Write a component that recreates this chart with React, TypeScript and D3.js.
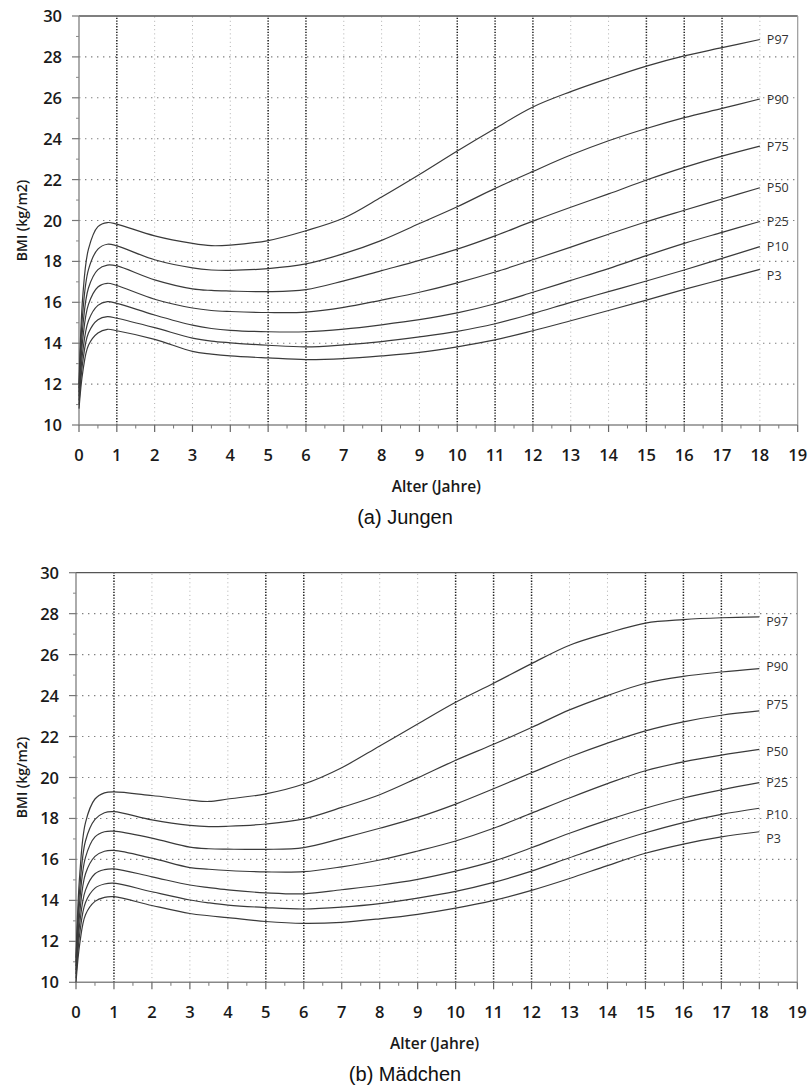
import React from 'react';
import * as d3 from 'd3';

// ---- Data ----
const AGES = [0, 0.1, 0.25, 0.5, 0.75, 1, 2, 3, 3.5, 4, 5, 6, 7, 8, 9, 10, 11, 12, 13, 14, 15, 16, 17, 18];
const PERCENTILES = ['P97', 'P90', 'P75', 'P50', 'P25', 'P10', 'P3'];

const BOYS_P97 = [12.0, 16.3, 18.6, 19.7, 19.9, 19.82, 19.25, 18.88, 18.77, 18.8, 19.02, 19.5, 20.12, 21.15, 22.25, 23.4, 24.5, 25.55, 26.3, 26.95, 27.55, 28.05, 28.45, 28.85];
const BOYS_P90 = [11.8, 15.5, 17.6, 18.6, 18.84, 18.76, 18.08, 17.68, 17.58, 17.56, 17.65, 17.88, 18.38, 19.03, 19.85, 20.67, 21.57, 22.4, 23.2, 23.9, 24.5, 25.03, 25.48, 25.94];
const BOYS_P75 = [11.6, 14.8, 16.7, 17.6, 17.82, 17.78, 17.1, 16.66, 16.58, 16.55, 16.52, 16.62, 17.05, 17.55, 18.05, 18.6, 19.25, 19.97, 20.65, 21.3, 21.98, 22.6, 23.15, 23.64];
const BOYS_P50 = [11.4, 14.2, 15.9, 16.75, 16.93, 16.82, 16.15, 15.72, 15.6, 15.55, 15.5, 15.52, 15.75, 16.11, 16.49, 16.95, 17.48, 18.08, 18.7, 19.33, 19.94, 20.5, 21.05, 21.6];
const BOYS_P25 = [11.2, 13.6, 15.1, 15.85, 16.03, 15.95, 15.38, 14.88, 14.72, 14.63, 14.56, 14.56, 14.69, 14.9, 15.15, 15.48, 15.93, 16.49, 17.07, 17.65, 18.28, 18.88, 19.42, 19.95];
const BOYS_P10 = [11.0, 13.1, 14.5, 15.15, 15.3, 15.22, 14.76, 14.25, 14.1, 14.02, 13.9, 13.82, 13.92, 14.08, 14.31, 14.58, 14.95, 15.45, 16.0, 16.52, 17.04, 17.58, 18.15, 18.72];
const BOYS_P3 = [10.8, 12.6, 13.9, 14.5, 14.68, 14.61, 14.19, 13.6, 13.47, 13.38, 13.28, 13.2, 13.25, 13.38, 13.55, 13.82, 14.16, 14.61, 15.1, 15.6, 16.11, 16.63, 17.12, 17.61];

const GIRLS_P97 = [11.2, 15.3, 17.8, 18.95, 19.25, 19.3, 19.12, 18.9, 18.83, 18.95, 19.2, 19.68, 20.48, 21.54, 22.61, 23.67, 24.6, 25.56, 26.46, 27.05, 27.54, 27.71, 27.8, 27.84];
const GIRLS_P90 = [11.0, 14.6, 16.9, 17.95, 18.28, 18.33, 17.93, 17.66, 17.6, 17.62, 17.73, 17.98, 18.54, 19.16, 19.98, 20.84, 21.62, 22.44, 23.3, 24.0, 24.6, 24.94, 25.15, 25.32];
const GIRLS_P75 = [10.8, 14.0, 16.1, 17.1, 17.35, 17.38, 17.04, 16.6, 16.52, 16.5, 16.49, 16.58, 17.03, 17.52, 18.05, 18.7, 19.45, 20.23, 21.0, 21.68, 22.28, 22.72, 23.04, 23.25];
const GIRLS_P50 = [10.6, 13.4, 15.3, 16.15, 16.4, 16.44, 16.06, 15.6, 15.52, 15.46, 15.39, 15.4, 15.64, 15.97, 16.41, 16.9, 17.52, 18.26, 19.0, 19.7, 20.33, 20.76, 21.09, 21.37];
const GIRLS_P25 = [10.4, 12.9, 14.5, 15.3, 15.5, 15.54, 15.15, 14.75, 14.62, 14.51, 14.37, 14.32, 14.52, 14.74, 15.03, 15.43, 15.92, 16.57, 17.28, 17.92, 18.5, 19.0, 19.4, 19.75];
const GIRLS_P10 = [10.2, 12.4, 13.9, 14.6, 14.8, 14.84, 14.42, 14.02, 13.88, 13.77, 13.65, 13.58, 13.67, 13.84, 14.11, 14.44, 14.88, 15.43, 16.08, 16.72, 17.3, 17.8, 18.2, 18.5];
const GIRLS_P3 = [10.0, 11.9, 13.3, 13.95, 14.15, 14.18, 13.75, 13.36, 13.25, 13.16, 12.97, 12.88, 12.93, 13.1, 13.32, 13.62, 14.0, 14.49, 15.07, 15.7, 16.3, 16.75, 17.1, 17.35];

const BOYS = [BOYS_P97, BOYS_P90, BOYS_P75, BOYS_P50, BOYS_P25, BOYS_P10, BOYS_P3];
const GIRLS = [GIRLS_P97, GIRLS_P90, GIRLS_P75, GIRLS_P50, GIRLS_P25, GIRLS_P10, GIRLS_P3];

const X_TICKS = d3.range(0, 20);
const X_MINOR = d3.range(0.5, 19, 1);
const Y_TICKS = [10, 12, 14, 16, 18, 20, 22, 24, 26, 28, 30];
const Y_MINOR = [11, 13, 15, 17, 19, 21, 23, 25, 27, 29];
const Y_GRID = [12, 14, 16, 18, 20, 22, 24, 26, 28];
const DARK_VERTICALS = [1, 5, 6, 10, 11, 12, 15, 16, 17];
const LIGHT_VERTICALS = [2, 3, 4, 7, 8, 9, 13, 14, 18];

const X_TITLE = 'Alter (Jahre)';
const Y_TITLE = 'BMI (kg/m2)';

// ---- Styles ----
const AXIS_FONT = '"Open Sans", "Noto Sans", sans-serif';
const LINE_COLOR = '#3a3a3a';

type Frame = { left: number; right: number; top: number; bottom: number };

function Chart({ series, frame, labelDy, caption }: { series: number[][]; frame: Frame; labelDy: number[]; caption: string }) {
  const x = d3.scaleLinear().domain([0, 19]).range([frame.left, frame.right]);
  const y = d3.scaleLinear().domain([10, 30]).range([frame.bottom, frame.top]);
  const line = d3
    .line<number>()
    .x((_, i) => x(AGES[i]))
    .y((d) => y(d))
    .curve(d3.curveCatmullRom.alpha(0.5));
  const midX = (frame.left + frame.right) / 2;
  const midY = (frame.top + frame.bottom) / 2;
  const lastAge = AGES[AGES.length - 1];

  return (
    <g>
      {Y_GRID.map((v) => (
        <line key={'h' + v} x1={x(0)} x2={x(19)} y1={y(v)} y2={y(v)} stroke="#808080" strokeWidth={1.1} strokeDasharray="1.4 4.6" />
      ))}
      {LIGHT_VERTICALS.map((v) => (
        <line key={'lv' + v} x1={x(v)} x2={x(v)} y1={y(10)} y2={y(30)} stroke="#b0b0b0" strokeWidth={1} strokeDasharray="1 3.2" />
      ))}
      {DARK_VERTICALS.map((v) => (
        <line key={'dv' + v} x1={x(v)} x2={x(v)} y1={y(10)} y2={y(30)} stroke="#1e1e1e" strokeWidth={1.5} strokeDasharray="1.3 1.5" />
      ))}
      <line x1={x(0)} x2={x(19)} y1={y(30)} y2={y(30)} stroke="#555" strokeWidth={1.3} />
      <line x1={x(19)} x2={x(19)} y1={y(30)} y2={y(10)} stroke="#999" strokeWidth={1.2} />
      <line x1={x(0)} x2={x(0)} y1={y(30)} y2={y(10)} stroke="#888" strokeWidth={1.4} />
      <line x1={x(0)} x2={x(19)} y1={y(10)} y2={y(10)} stroke="#888" strokeWidth={1.4} />
      {Y_TICKS.map((v) => (
        <g key={'yt' + v}>
          <line x1={x(0) - 7} x2={x(0)} y1={y(v)} y2={y(v)} stroke="#777" strokeWidth={1.2} />
          <text x={x(0) - 17} y={y(v) + 6} textAnchor="end" fontFamily={AXIS_FONT} fontWeight={600} fontSize={16.5} fill="#1a1a1a">
            {v}
          </text>
        </g>
      ))}
      {Y_MINOR.map((v) => (
        <line key={'ym' + v} x1={x(0) - 3} x2={x(0)} y1={y(v)} y2={y(v)} stroke="#888" strokeWidth={1} />
      ))}
      {X_TICKS.map((v) => (
        <g key={'xt' + v}>
          <line x1={x(v)} x2={x(v)} y1={y(10)} y2={y(10) + 7} stroke="#666" strokeWidth={1.2} />
          <text x={x(v)} y={y(10) + 36} textAnchor="middle" fontFamily={AXIS_FONT} fontWeight={600} fontSize={16.5} fill="#1a1a1a">
            {v}
          </text>
        </g>
      ))}
      {X_MINOR.map((v) => (
        <line key={'xm' + v} x1={x(v)} x2={x(v)} y1={y(10)} y2={y(10) + 3.5} stroke="#777" strokeWidth={1} />
      ))}
      {series.map((s, i) => (
        <path key={'c' + i} d={line(s) || ''} fill="none" stroke={LINE_COLOR} strokeWidth={1.2} />
      ))}
      {series.map((s, i) => (
        <text key={'l' + i} x={x(lastAge) + 7} y={y(s[s.length - 1]) + 4.5 + labelDy[i]} fontFamily={AXIS_FONT} fontSize={12.5} fill="#333">
          {PERCENTILES[i]}
        </text>
      ))}
      <text x={midX - 2} y={y(10) + 67} textAnchor="middle" fontFamily={AXIS_FONT} fontWeight={600} fontSize={15.5} fill="#1a1a1a">
        {X_TITLE}
      </text>
      <text transform={`translate(27, ${midY}) rotate(-90)`} textAnchor="middle" fontFamily={AXIS_FONT} fontWeight={600} fontSize={14} fill="#1a1a1a">
        {Y_TITLE}
      </text>
      <text x={405} y={y(10) + 99} textAnchor="middle" fontFamily='"Liberation Sans", Arial, sans-serif' fontSize={20} fill="#111">
        {caption}
      </text>
    </g>
  );
}

export default function App() {
  return (
    <svg width={810} height={1090} style={{ position: 'absolute', left: 0, top: 0, background: '#fff' }}>
      <rect width={810} height={1090} fill="#fff" />
      <Chart series={BOYS} frame={{ left: 79, right: 797.7, top: 16, bottom: 425 }} labelDy={[0, 0, 0, 0, 0, 0, 6]} caption="(a) Jungen" />
      <Chart series={GIRLS} frame={{ left: 76, right: 797.3, top: 572.7, bottom: 982.3 }} labelDy={[5, -2, -6, 2, 0, 6, 7]} caption="(b) Mädchen" />
    </svg>
  );
}
